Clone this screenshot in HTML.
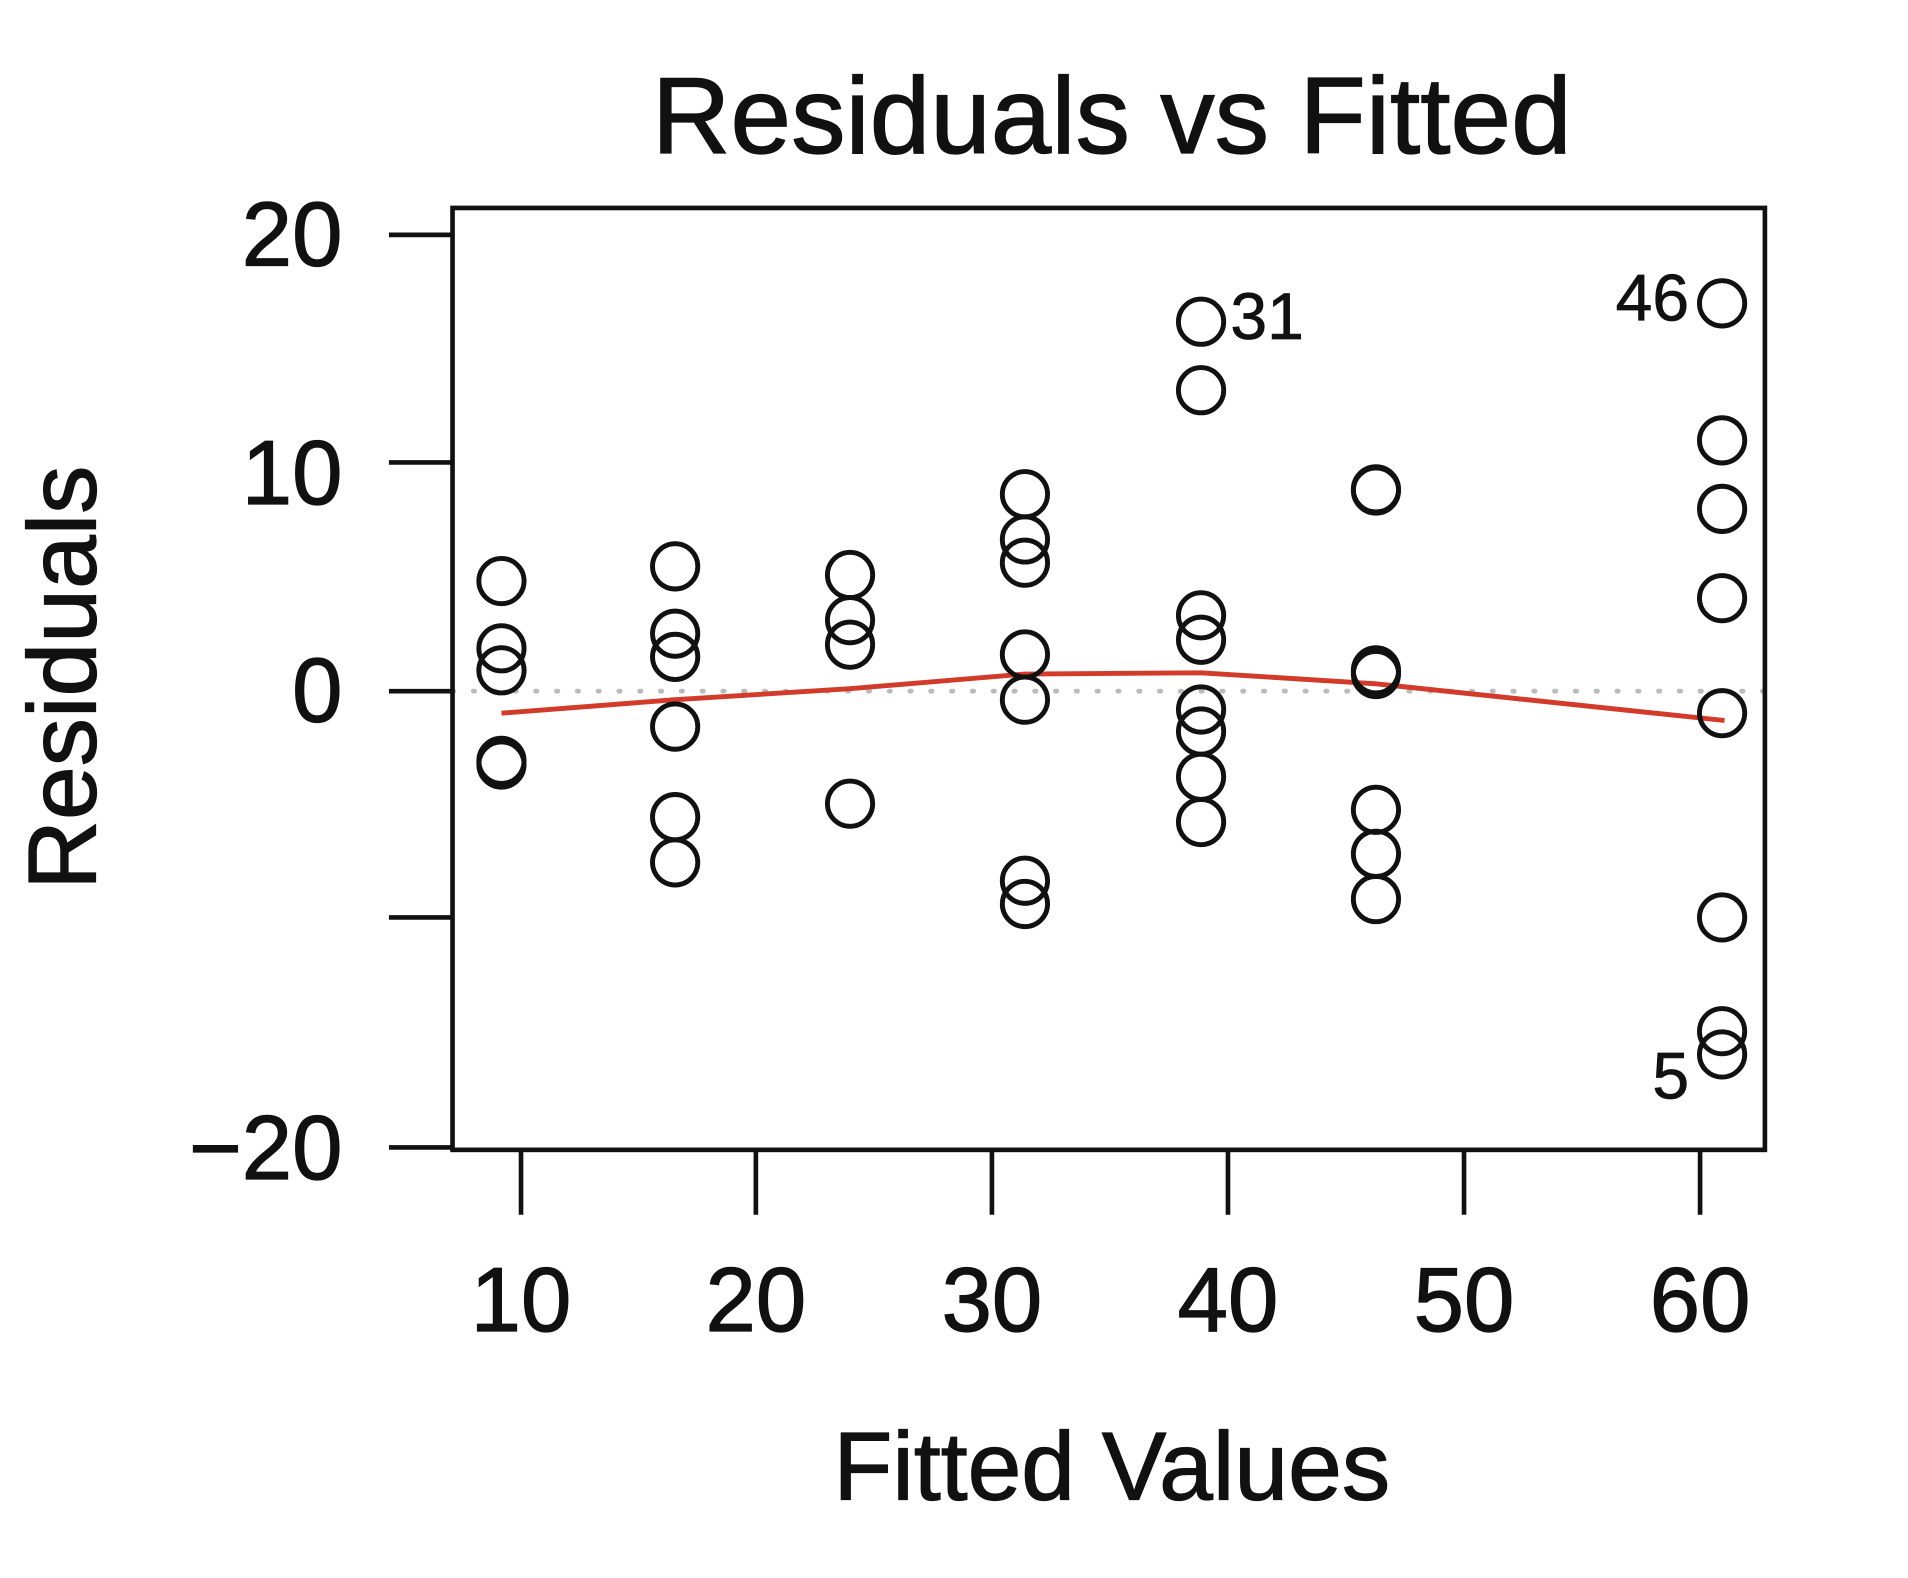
<!DOCTYPE html>
<html><head><style>html,body{margin:0;padding:0;background:#fff;}svg{display:block}</style></head>
<body>
<svg width="1908" height="1578" viewBox="0 0 1560 1290" preserveAspectRatio="none" xmlns="http://www.w3.org/2000/svg" font-family="Liberation Sans, Arial, sans-serif" fill="#111">
<rect width="1560" height="1290" fill="#fff"/>
<text x="909" y="125" font-size="89" text-anchor="middle" textLength="752" lengthAdjust="spacingAndGlyphs" stroke="#111" stroke-width="1">Residuals vs Fitted</text>
<line x1="370" y1="565" x2="1445" y2="565" stroke="#bbb" stroke-width="4" stroke-dasharray="1 16" stroke-linecap="round"/>
<rect x="370" y="170" width="1073" height="770" fill="none" stroke="#111" stroke-width="3.8"/>
<g stroke="#111" stroke-width="3.8">
<line x1="318" y1="192" x2="370" y2="192"/><line x1="318" y1="378" x2="370" y2="378"/><line x1="318" y1="565" x2="370" y2="565"/><line x1="318" y1="750" x2="370" y2="750"/><line x1="318" y1="938" x2="370" y2="938"/>
<line x1="426" y1="940" x2="426" y2="993"/><line x1="618" y1="940" x2="618" y2="993"/><line x1="811" y1="940" x2="811" y2="993"/><line x1="1004" y1="940" x2="1004" y2="993"/><line x1="1197" y1="940" x2="1197" y2="993"/><line x1="1390" y1="940" x2="1390" y2="993"/>
</g>
<g font-size="74" text-anchor="end" stroke="#111" stroke-width="1">
<text x="280" y="217">20</text><text x="280" y="412">10</text><text x="280" y="590">0</text><text x="280" y="964">−20</text>
</g>
<g font-size="74" text-anchor="middle" stroke="#111" stroke-width="1">
<text x="426" y="1088">10</text><text x="618" y="1088">20</text><text x="811" y="1088">30</text><text x="1004" y="1088">40</text><text x="1197" y="1088">50</text><text x="1390" y="1088">60</text>
</g>
<text x="909" y="1226" font-size="79" text-anchor="middle" stroke="#111" stroke-width="1">Fitted Values</text>
<text transform="translate(78,554) rotate(-90)" font-size="79" text-anchor="middle" stroke="#111" stroke-width="1">Residuals</text>
<polyline points="410,583 552,572 695,563 838,551 982,550 1125,559 1410,589" fill="none" stroke="#d23a2a" stroke-width="4"/>
<g fill="none" stroke="#111" stroke-width="4">
<circle cx="410" cy="475" r="18.5"/><circle cx="410" cy="530" r="18.5"/><circle cx="410" cy="548" r="18.5"/><circle cx="410" cy="622" r="18.5"/><circle cx="410" cy="625" r="18.5"/>
<circle cx="552" cy="463" r="18.5"/><circle cx="552" cy="518" r="18.5"/><circle cx="552" cy="537" r="18.5"/><circle cx="552" cy="594" r="18.5"/><circle cx="552" cy="668" r="18.5"/><circle cx="552" cy="705" r="18.5"/>
<circle cx="695" cy="470" r="18.5"/><circle cx="695" cy="507" r="18.5"/><circle cx="695" cy="527" r="18.5"/><circle cx="695" cy="657" r="18.5"/>
<circle cx="838" cy="404" r="18.5"/><circle cx="838" cy="441" r="18.5"/><circle cx="838" cy="460" r="18.5"/><circle cx="838" cy="535" r="18.5"/><circle cx="838" cy="572" r="18.5"/><circle cx="838" cy="720" r="18.5"/><circle cx="838" cy="739" r="18.5"/>
<circle cx="982" cy="263" r="18.5"/><circle cx="982" cy="319" r="18.5"/><circle cx="982" cy="503" r="18.5"/><circle cx="982" cy="523" r="18.5"/><circle cx="982" cy="580" r="18.5"/><circle cx="982" cy="598" r="18.5"/><circle cx="982" cy="635" r="18.5"/><circle cx="982" cy="672" r="18.5"/>
<circle cx="1125" cy="400" r="18.5"/><circle cx="1125" cy="401" r="18.5"/><circle cx="1125" cy="548" r="18.5"/><circle cx="1125" cy="551" r="18.5"/><circle cx="1125" cy="662" r="18.5"/><circle cx="1125" cy="698" r="18.5"/><circle cx="1125" cy="735" r="18.5"/>
<circle cx="1408" cy="248" r="18.5"/><circle cx="1408" cy="360" r="18.5"/><circle cx="1408" cy="416" r="18.5"/><circle cx="1408" cy="489" r="18.5"/><circle cx="1408" cy="583" r="18.5"/><circle cx="1408" cy="750" r="18.5"/><circle cx="1408" cy="843" r="18.5"/><circle cx="1408" cy="862" r="18.5"/>
</g>
<g font-size="54" stroke="#111" stroke-width="0.6">
<text x="1006" y="277">31</text>
<text x="1381" y="262" text-anchor="end">46</text>
<text x="1381" y="898" text-anchor="end">5</text>
</g>
</svg>
</body></html>
